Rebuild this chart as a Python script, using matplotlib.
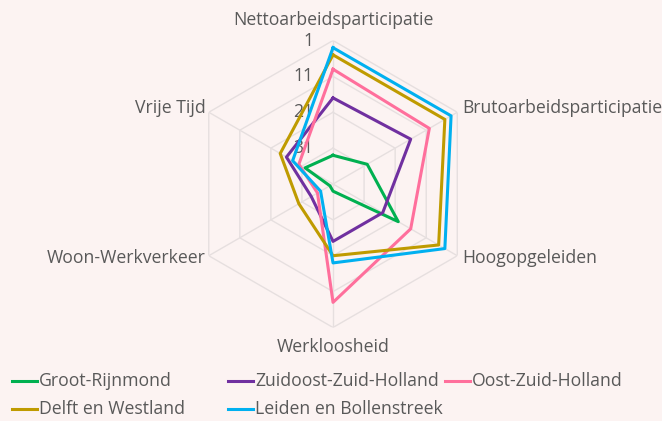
import numpy as np
import matplotlib.pyplot as plt
from matplotlib.lines import Line2D

plt.rcParams['font.family'] = ['Open Sans', 'DejaVu Sans']

# Ranks per region (1 = best, outer ring)
categories = ['Nettoarbeidsparticipatie', 'Brutoarbeidsparticipatie', 'Hoogopgeleiden',
              'Werkloosheid', 'Woon-Werkverkeer', 'Vrije Tijd']
groot_rijnmond = [33, 30, 20, 39, 40, 32]
zuidoost_zuid_holland = [17, 16, 25, 25, 34, 26]
oost_zuid_holland = [9, 10, 16, 8, 36, 30]
delft_westland = [5, 5, 7, 21, 30, 24]
leiden_bollenstreek = [3, 3, 5, 19, 37, 28]
series_names = ['Groot-Rijnmond', 'Zuidoost-Zuid-Holland', 'Oost-Zuid-Holland',
                'Delft en Westland', 'Leiden en Bollenstreek']
rank_ticks = [1, 11, 21, 31]
RANK_MAX = 41

colors = ['#00B050', '#7030A0', '#FF6F9C', '#BF9B00', '#00B0F0']
BG = '#FCF3F2'
TXT = '#595959'
GRID = '#E6DFDF'
FS = 12.7


def to_r(ranks):
    """ Reversed axis: rank 1 sits on the outer ring."""
    return RANK_MAX - np.asarray(ranks, dtype=float)


def main():
    fig = plt.figure(figsize=(6.62, 4.21), dpi=100, facecolor=BG)
    ax = fig.add_axes([0.2863, 0.2221, 0.4335, 0.6817], projection='polar')
    ax.set_facecolor(BG)
    ax.set_theta_offset(np.pi / 2)
    ax.set_theta_direction(-1)
    ax.set_ylim(0, RANK_MAX - 1)
    ax.set_xticks([])
    ax.set_yticks([])
    ax.grid(False)
    ax.spines['polar'].set_visible(False)

    n = len(categories)
    angles = np.linspace(0, 2 * np.pi, n, endpoint=False)
    closed = np.append(angles, angles[0])

    # hexagonal grid + spokes
    for t in rank_ticks:
        ax.plot(closed, [to_r(t)] * (n + 1), color=GRID, lw=1, zorder=1)
    for a in angles:
        ax.plot([a, a], [0, to_r(1)], color=GRID, lw=1, zorder=1)

    # radial tick labels
    for t in rank_ticks:
        ax.annotate(str(t), xy=(0, to_r(t)), xytext=(-14, 0), textcoords='offset points',
                    ha='right', va='center', fontsize=FS, color=TXT)

    # category labels
    offsets = [(0, 15), (3.5, 3), (3.5, -1.5), (0, -14), (-2, -1.5), (-2, 3)]
    aligns = ['center', 'left', 'left', 'center', 'right', 'right']
    for a, lab, off, ha in zip(angles, categories, offsets, aligns):
        ax.annotate(lab, xy=(a, to_r(1)), xytext=off, textcoords='offset points',
                    ha=ha, va='center', fontsize=FS, color=TXT, annotation_clip=False)

    data = [groot_rijnmond, zuidoost_zuid_holland, oost_zuid_holland,
            delft_westland, leiden_bollenstreek]
    for vals, c in zip(data, colors):
        r = to_r(vals)
        ax.plot(closed, np.append(r, r[0]), color=c, lw=2.2, zorder=3)

    # legend laid out like the original (fixed column widths)
    col_x = [12, 228, 445, 12, 228]
    row_y = [381, 381, 381, 409, 409]
    W, H = 662.0, 421.0
    for name, c, x, y in zip(series_names, colors, col_x, row_y):
        fig.add_artist(Line2D([x / W, (x + 25) / W], [1 - y / H, 1 - y / H], color=c, lw=2.2))
        fig.text((x + 27) / W, 1 - y / H, name, ha='left', va='center', fontsize=FS, color=TXT)

    fig.savefig('out.png', dpi=100, facecolor=BG)


main()
